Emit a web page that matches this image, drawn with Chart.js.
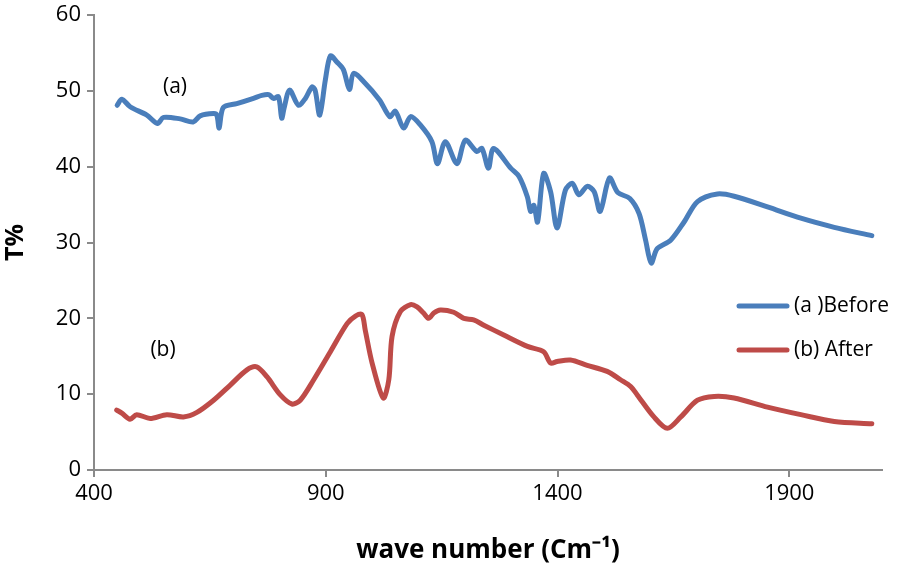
<!DOCTYPE html>
<html>
<head>
<meta charset="utf-8">
<script src="https://cdn.jsdelivr.net/npm/chart.js@4"></script>
<style>
  html, body { margin: 0; padding: 0; background: #fff; }
  #wrap { width: 898px; height: 575px; }
</style>
</head>
<body>
<div id="wrap"><canvas id="ftirChart"></canvas></div>
<script>
const waveA = [450, 460, 478, 514, 537, 550, 586, 614, 629, 658, 665, 670, 679, 708, 744, 762, 777, 787, 798, 805, 810, 822, 841, 856, 870, 877, 887, 899, 910, 924, 938, 951, 960, 982, 1016, 1038, 1050, 1068, 1083, 1104, 1129, 1141, 1158, 1183, 1201, 1226, 1237, 1251, 1262, 1299, 1317, 1335, 1342, 1349, 1357, 1370, 1385, 1399, 1417, 1432, 1446, 1464, 1479, 1492, 1512, 1530, 1556, 1576, 1590, 1602, 1615, 1644, 1673, 1702, 1745, 1781, 1853, 1925, 1997, 2078];
const tA = [48.1, 48.9, 47.9, 46.8, 45.7, 46.5, 46.3, 45.9, 46.7, 47.0, 46.8, 45.1, 47.8, 48.3, 49.0, 49.4, 49.5, 49.0, 49.2, 46.4, 47.7, 50.1, 48.1, 49.0, 50.5, 50.1, 46.8, 51.4, 54.6, 53.8, 52.8, 50.2, 52.3, 51.2, 48.8, 46.6, 47.3, 45.1, 46.6, 45.5, 43.3, 40.4, 43.3, 40.4, 43.5, 42.0, 42.4, 39.8, 42.4, 39.8, 38.7, 36.0, 34.1, 34.9, 32.7, 39.1, 36.7, 31.9, 36.9, 37.8, 36.3, 37.4, 36.7, 34.1, 38.5, 36.6, 35.8, 33.8, 30.3, 27.3, 29.2, 30.3, 32.7, 35.4, 36.4, 36.1, 34.7, 33.2, 32.0, 30.9];

const waveB = [449, 460, 478, 492, 521, 557, 593, 622, 658, 694, 730, 751, 773, 802, 827, 845, 874, 910, 946, 964, 978, 985, 1000, 1024, 1036, 1043, 1061, 1083, 1097, 1111, 1122, 1133, 1147, 1176, 1198, 1219, 1241, 1284, 1335, 1370, 1385, 1399, 1428, 1464, 1507, 1536, 1558, 1572, 1608, 1637, 1666, 1702, 1738, 1781, 1853, 1925, 1997, 2078];
const tB = [7.9, 7.5, 6.7, 7.3, 6.8, 7.3, 7.0, 7.6, 9.2, 11.2, 13.2, 13.6, 12.3, 9.9, 8.7, 9.2, 11.9, 15.6, 19.3, 20.3, 20.5, 18.5, 14.1, 9.5, 11.9, 17.6, 20.9, 21.8, 21.5, 20.7, 20.0, 20.7, 21.1, 20.8, 20.0, 19.8, 19.1, 17.8, 16.3, 15.6, 14.1, 14.3, 14.5, 13.8, 13.0, 11.9, 11.0, 9.9, 7.0, 5.5, 7.0, 9.2, 9.7, 9.5, 8.3, 7.3, 6.4, 6.1];

const seriesNames = ['(a )Before', '(b) After'];
const seriesColors = ['#4a7ebb', '#be4b48'];
const xTickValues = [400, 900, 1400, 1900];
const notes = [{ text: '(a)', x: 175, y: 87 }, { text: '(b)', x: 163, y: 350 }];

function pairs(xs, ys) {
  return xs.map((x, i) => ({ x: x, y: ys[i] }));
}

const FONT = '"Open Sans", "Liberation Sans", sans-serif';

// draws the (a)/(b) notes and the in-plot legend
const overlay = {
  id: 'overlay',
  afterDraw(chart) {
    const c = chart.ctx;
    c.save();
    c.fillStyle = '#000';
    c.font = '21px ' + FONT;
    c.textAlign = 'center';
    c.textBaseline = 'middle';
    notes.forEach(n => c.fillText(n.text, n.x, n.y));
    c.textAlign = 'left';
    chart.data.datasets.forEach((ds, i) => {
      const y = 306 + i * 44;
      c.strokeStyle = ds.borderColor;
      c.lineWidth = 5;
      c.lineCap = 'round';
      c.beginPath();
      c.moveTo(739, y);
      c.lineTo(787, y);
      c.stroke();
      c.fillText(ds.label, 794, y);
    });
    c.restore();
  }
};

new Chart(document.getElementById('ftirChart'), {
  type: 'line',
  data: {
    datasets: [
      { label: seriesNames[0], data: pairs(waveA, tA), borderColor: seriesColors[0] },
      { label: seriesNames[1], data: pairs(waveB, tB), borderColor: seriesColors[1] }
    ]
  },
  options: {
    responsive: true,
    maintainAspectRatio: false,
    animation: false,
    layout: { padding: { top: 15, right: 16, left: 0, bottom: 0 } },
    elements: {
      point: { radius: 0 },
      line: { borderWidth: 5, tension: 0.3, borderCapStyle: 'round', borderJoinStyle: 'round' }
    },
    plugins: {
      legend: { display: false },
      tooltip: { enabled: false }
    },
    scales: {
      x: {
        type: 'linear',
        min: 400,
        max: 2100,
        afterBuildTicks: s => { s.ticks = xTickValues.map(v => ({ value: v })); },
        afterFit: s => { s.height = 105; s.paddingLeft = 0; s.paddingRight = 0; },
        border: { color: '#8a8a8a', width: 2 },
        grid: { drawOnChartArea: false, color: '#8a8a8a', lineWidth: 2, tickLength: 7 },
        ticks: { color: '#000', font: { family: FONT, size: 22 }, padding: 4, maxRotation: 0, callback: v => String(v) },
        title: {
          display: true,
          text: 'wave number (Cm\u207B\u00B9)',
          color: '#000',
          font: { family: FONT, size: 26, weight: 'bold' },
          padding: { top: 0, bottom: 9 }
        }
      },
      y: {
        min: 0,
        max: 60,
        afterFit: s => { s.width = 94; s.paddingTop = 0; s.paddingBottom = 0; },
        border: { color: '#8a8a8a', width: 2 },
        grid: { drawOnChartArea: false, color: '#8a8a8a', lineWidth: 2, tickLength: 7 },
        ticks: { stepSize: 10, color: '#000', font: { family: FONT, size: 22 }, padding: 6 },
        title: {
          display: true,
          text: 'T%',
          color: '#000',
          font: { family: FONT, size: 25, weight: 'bold' },
          padding: { top: 1, bottom: 0 }
        }
      }
    }
  },
  plugins: [overlay]
});
</script>
</body>
</html>
